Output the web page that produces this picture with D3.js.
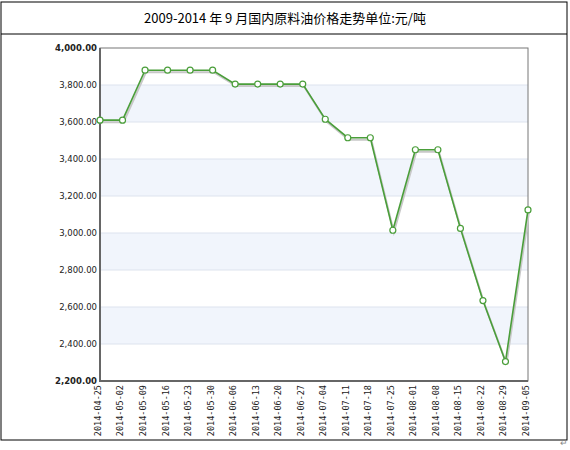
<!DOCTYPE html>
<html><head><meta charset="utf-8">
<script src="https://cdn.jsdelivr.net/npm/d3@7"></script>
<style>body{margin:0;background:#fff}</style>
</head><body>
<script>
const dates = ['2014-04-25','2014-05-02','2014-05-09','2014-05-16','2014-05-23','2014-05-30','2014-06-06','2014-06-13','2014-06-20','2014-06-27','2014-07-04','2014-07-11','2014-07-18','2014-07-25','2014-08-01','2014-08-08','2014-08-15','2014-08-22','2014-08-29','2014-09-05'];
const prices = [3610,3610,3880,3880,3880,3880,3805,3805,3805,3805,3615,3515,3515,3015,3450,3450,3025,2635,2305,3125];
const yTicks = [2200,2400,2600,2800,3000,3200,3400,3600,3800,4000];
const title = '2009-2014 年 9 月国内原料油价格走势单位:元/吨';

const W = 570, H = 450;
const svg = d3.select('body').append('svg').attr('width', W).attr('height', H);

// outer table frame
svg.append('rect').attr('x', 1).attr('y', 2).attr('width', 566).attr('height', 438)
  .attr('fill', 'none').attr('stroke', '#000').attr('stroke-width', 1);
svg.append('line').attr('x1', 1).attr('x2', 567).attr('y1', 34).attr('y2', 34).attr('stroke', '#000');
svg.append('text').attr('x', 285).attr('y', 23).attr('text-anchor', 'middle')
  .attr('font-family', 'Noto Sans CJK SC, sans-serif').attr('font-size', 13).text(title);
svg.append('text').attr('x', 560).attr('y', 446).attr('font-size', 9).attr('fill', '#888').text('↵');

const x = d3.scalePoint().domain(dates).range([100, 528]);
const y = d3.scaleLinear().domain([2200, 4000]).range([381, 48]);

// alternating bands
for (let i = 0; i < yTicks.length - 1; i++) {
  if (i % 2 === 1) {
    svg.append('rect').attr('x', 100).attr('width', 428)
      .attr('y', y(yTicks[i + 1])).attr('height', y(yTicks[i]) - y(yTicks[i + 1]))
      .attr('fill', '#f1f5fc');
  }
}
svg.append('g').selectAll('line').data(yTicks.slice(1, -1)).join('line')
  .attr('x1', 100).attr('x2', 528).attr('y1', d => y(d)).attr('y2', d => y(d))
  .attr('stroke', '#dde3ee');

svg.append('rect').attr('x', 100).attr('y', 48).attr('width', 428).attr('height', 333)
  .attr('fill', 'none').attr('stroke', '#777').attr('stroke-width', 1);
svg.append('path').attr('d', 'M100,48V381H528').attr('fill', 'none').attr('stroke', '#666').attr('stroke-width', 2);

const fmt = d3.format(',.2f');
svg.append('g').attr('transform', 'translate(100,0)')
  .call(d3.axisLeft(y).tickValues(yTicks).tickSize(0).tickPadding(3).tickFormat(fmt))
  .call(g => g.select('.domain').remove())
  .call(g => g.selectAll('text').attr('font-family', 'DejaVu Sans, sans-serif').attr('font-size', 8.5)
    .attr('fill', '#222').attr('font-weight', d => (d === 2200 || d === 4000) ? 'bold' : 'normal'));

svg.append('g').attr('transform', 'translate(0,381)')
  .call(d3.axisBottom(x).tickSize(0))
  .call(g => g.select('.domain').remove())
  .call(g => g.selectAll('text').attr('font-family', 'DejaVu Sans Mono, monospace').attr('font-size', 8.5).attr('fill', '#222')
    .attr('transform', 'rotate(-90)').attr('text-anchor', 'end').attr('dx', '-4px').attr('dy', '-0.3em'));

const line = d3.line().x((d, i) => x(dates[i])).y(d => y(d));
svg.append('path').datum(prices).attr('d', line).attr('transform', 'translate(1,2)')
  .attr('fill', 'none').attr('stroke', '#c8c8c8').attr('stroke-width', 2);
svg.append('path').datum(prices).attr('d', line)
  .attr('fill', 'none').attr('stroke', '#4a9e3a').attr('stroke-width', 1.6);
svg.append('g').selectAll('circle').data(prices).join('circle')
  .attr('cx', (d, i) => x(dates[i])).attr('cy', d => y(d)).attr('r', 3)
  .attr('fill', '#fff').attr('stroke', '#4a9e3a').attr('stroke-width', 1.2);
</script>
</body></html>
